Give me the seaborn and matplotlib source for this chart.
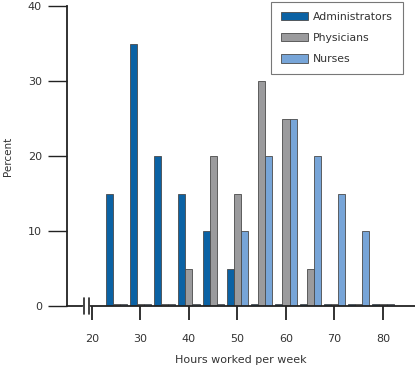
import matplotlib
matplotlib.use("Agg")
import matplotlib.pyplot as plt
import matplotlib.transforms as mtransforms
import seaborn as sns
import pandas as pd

hours = [25, 30, 35, 40, 45, 50, 55, 60, 65, 70, 75, 80]
administrators = [15, 35, 20, 15, 10, 5, 0.3, 0.3, 0.3, 0.3, 0.3, 0.3]
physicians = [0.3, 0.3, 0.3, 5, 20, 15, 30, 25, 5, 0.3, 0.3, 0.3]
nurses = [0.3, 0.3, 0.3, 0.3, 0.3, 10, 20, 25, 20, 15, 10, 0.3]
groups = ["Administrators", "Physicians", "Nurses"]
colors = ["#0b62a4", "#9b9b9d", "#77a5d8"]
x_ticks = [20, 30, 40, 50, 60, 70, 80]
y_ticks = [0, 10, 20, 30, 40]

rows = []
for g, vals in zip(groups, [administrators, physicians, nurses]):
    for h, v in zip(hours, vals):
        rows.append({"hours": h, "pct": v, "group": g})
df = pd.DataFrame(rows)

sns.set_style("ticks")
plt.rcParams["font.family"] = ["DejaVu Sans"]
txt = "#333333"

fig = plt.figure(figsize=(4.15, 3.69), dpi=100)
ax = fig.add_axes([67 / 415, 63 / 369, 348 / 415, 300 / 369])

sns.barplot(data=df, x="hours", y="pct", hue="group", hue_order=groups,
            palette=colors, saturation=1, native_scale=True, width=0.87,
            edgecolor="#4a4a4a", linewidth=0.6, ax=ax, legend=True)

ax.set_xlim(14.85, 86.6)
ax.set_ylim(0, 40)
ax.set_xticks(x_ticks)
ax.set_xticklabels([str(t) for t in x_ticks])
ax.set_yticks(y_ticks)
ax.set_yticklabels([str(t) for t in y_ticks])

for s in ["top", "right"]:
    ax.spines[s].set_visible(False)
for s in ["left", "bottom"]:
    ax.spines[s].set_linewidth(1.3)
    ax.spines[s].set_color("#222222")

ax.tick_params(axis="x", length=10, width=1.3, color="#222222",
               labelsize=8, labelcolor=txt, pad=10)
ax.tick_params(axis="y", length=14, width=1.0, color="#222222",
               labelsize=8, labelcolor=txt, pad=4)

ax.set_xlabel("Hours worked per week", fontsize=8, color=txt, labelpad=8)
ax.set_ylabel("Percent", fontsize=7.5, color=txt)
ax.yaxis.set_label_coords(-0.155, 0.5)

# axis break on x axis
trans = mtransforms.blended_transform_factory(ax.transData, ax.transAxes)
ax.plot([18.4, 19.2], [0, 0], color="white", lw=2.5, transform=trans,
        clip_on=False, zorder=5)
for xb in [18.3, 19.3]:
    ax.plot([xb, xb], [-0.026, 0.026], color="#222222", lw=1.2,
            transform=trans, clip_on=False, zorder=6)

handles, labels = ax.get_legend_handles_labels()
leg = ax.legend(handles, labels, loc="upper right",
                bbox_to_anchor=(0.965, 1.014), frameon=True, fancybox=False,
                fontsize=7.8, handlelength=2.5, handleheight=0.8,
                borderpad=0.9, labelspacing=1.05, handletextpad=0.5,
                borderaxespad=0)
leg.get_frame().set_edgecolor("#555555")
leg.get_frame().set_linewidth(0.8)
for t in leg.get_texts():
    t.set_color(txt)

fig.savefig("out.png", dpi=100)
